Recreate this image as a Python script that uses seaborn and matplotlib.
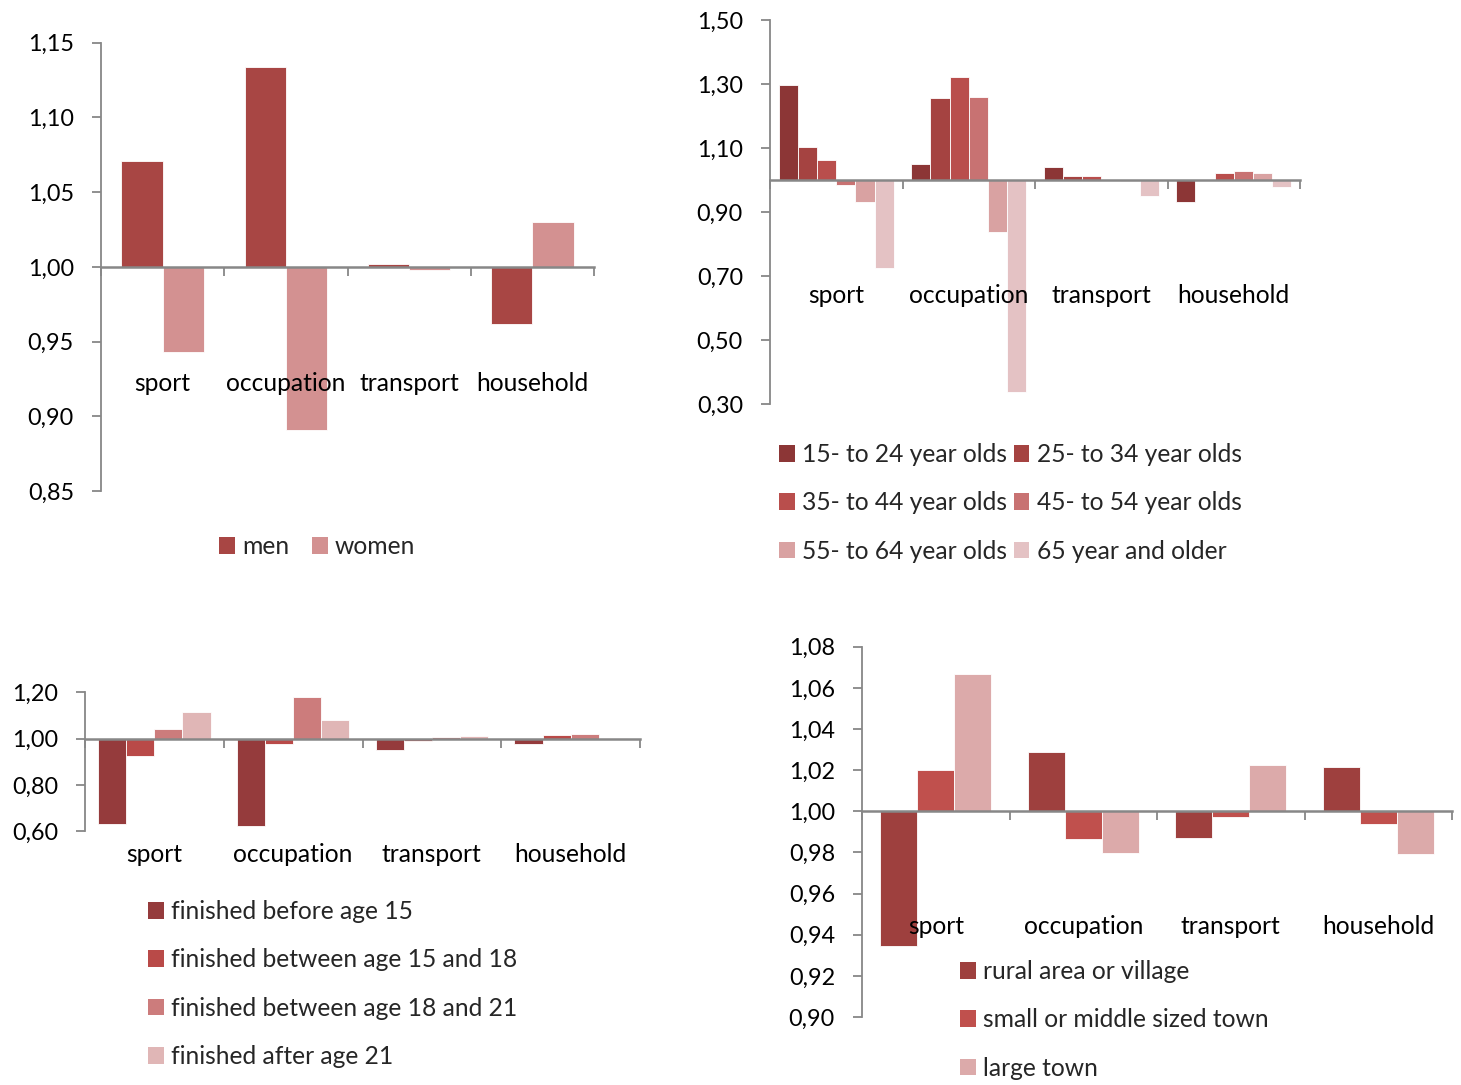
import matplotlib
matplotlib.use("Agg")
import matplotlib.pyplot as plt
from matplotlib.patches import Patch
from matplotlib.ticker import FuncFormatter, FixedLocator
import numpy as np
import seaborn as sns
import pandas as pd

# ---- data -------------------------------------------------------------
activities = ["sport", "occupation", "transport", "household"]

sex_groups = ["men", "women"]
men = [1.071, 1.134, 1.002, 0.962]
women = [0.943, 0.891, 0.998, 1.030]
sex_colors = ["#A84644", "#D39191"]

age_groups = ["15- to 24 year olds", "25- to 34 year olds", "35- to 44 year olds",
              "45- to 54 year olds", "55- to 64 year olds", "65 year and older"]
age_15_24 = [1.297, 1.050, 1.040, 0.932]
age_25_34 = [1.103, 1.256, 1.014, 1.000]
age_35_44 = [1.061, 1.322, 1.011, 1.021]
age_45_54 = [0.984, 1.259, 1.000, 1.029]
age_55_64 = [0.930, 0.838, 0.997, 1.022]
age_65_up = [0.724, 0.338, 0.951, 0.979]
age_colors = ["#8C3636", "#A54341", "#B94E4C", "#C87272", "#D9A2A2", "#E4C2C4"]

edu_groups = ["finished before age 15", "finished between age 15 and 18",
              "finished between age 18 and 21", "finished after age 21"]
edu_before_15 = [0.633, 0.622, 0.951, 0.976]
edu_15_18 = [0.924, 0.976, 0.990, 1.015]
edu_18_21 = [1.040, 1.179, 1.009, 1.019]
edu_after_21 = [1.117, 1.079, 1.013, 1.004]
edu_colors = ["#953B3C", "#B94A48", "#CC7C7C", "#E0B6B6"]

place_groups = ["rural area or village", "small or middle sized town", "large town"]
rural = [0.9345, 1.0289, 0.9868, 1.0217]
small_town = [1.0199, 0.9863, 0.9972, 0.9940]
large_town = [1.0669, 0.9795, 1.0223, 0.9792]
place_colors = ["#9E403E", "#C0504D", "#DCAAAA"]

# ---- style ------------------------------------------------------------
sns.set_theme(style="white")
plt.rcParams["font.family"] = ["Lato", "DejaVu Sans"]
AXIS_GREY = "#878787"
FS_TEXT = 17.7
FS_TICK = 16.8

fig = plt.figure(figsize=(14.61, 10.85), dpi=100)


def long_frame(groups, series):
    rows = []
    for g, vals in zip(groups, series):
        for a, v in zip(activities, vals):
            rows.append({"activity": a, "group": g, "value": v, "dev": v - 1.0})
    return pd.DataFrame(rows)


def panel(rect, groups, series, colors, ylim, step, bar_width, label_y,
          legend_anchor, ncol, label_spacing, col_spacing=0.6):
    ax = fig.add_axes(rect)
    df = long_frame(groups, series)
    # bars grow from the 1,00 baseline: height = value - 1, bottom = 1
    sns.barplot(data=df, x="activity", y="dev", hue="group", order=activities,
                hue_order=groups, palette=colors, width=bar_width, gap=0,
                errorbar=None, bottom=1.0, ax=ax, saturation=1, legend=False,
                edgecolor="white", linewidth=0.6)
    ax.set_xlim(-0.5, 3.5)
    ax.set_ylim(*ylim)
    ax.set_xlabel("")
    ax.set_ylabel("")

    # horizontal axis crossing at 1,00 with marks between categories
    for s in ("top", "right"):
        ax.spines[s].set_visible(False)
    ax.spines["bottom"].set_position(("data", 1.0))
    ax.spines["bottom"].set_color(AXIS_GREY)
    ax.spines["bottom"].set_linewidth(1.8)
    ax.spines["left"].set_color(AXIS_GREY)
    ax.spines["left"].set_linewidth(1.3)
    ax.xaxis.set_minor_locator(FixedLocator([-0.5, 0.5, 1.5, 2.5, 3.5]))
    ax.tick_params(axis="x", which="major", length=0, labelbottom=False)
    ax.tick_params(axis="x", which="minor", bottom=True, length=6.5,
                   width=1.3, color=AXIS_GREY, direction="out")

    n_ticks = int(round((ylim[1] - ylim[0]) / step)) + 1
    ax.yaxis.set_major_locator(
        FixedLocator(ylim[0] + step * np.arange(n_ticks)))
    ax.yaxis.set_major_formatter(
        FuncFormatter(lambda v, _: f"{v:.2f}".replace(".", ",")))
    ax.tick_params(axis="y", left=True, length=6.5, width=1.3,
                   color=AXIS_GREY, pad=13, labelsize=FS_TICK,
                   labelcolor="black")

    for i, a in enumerate(activities):
        ax.text(i, label_y, a, ha="center", va="center", fontsize=FS_TEXT,
                color="black")

    handles = [Patch(facecolor=c, edgecolor="none") for c in colors]
    labels = list(groups)
    if ncol > 1 and len(groups) > ncol:
        # fill the legend row by row
        nrow = int(np.ceil(len(groups) / ncol))
        order = [r * ncol + c for c in range(ncol) for r in range(nrow)]
        handles = [handles[i] for i in order]
        labels = [labels[i] for i in order]
    ax.legend(handles, labels, loc="upper left", bbox_to_anchor=legend_anchor,
              bbox_transform=fig.transFigure, ncol=ncol, frameon=False,
              fontsize=FS_TEXT, handlelength=0.65, handleheight=0.65,
              handletextpad=0.3, labelspacing=label_spacing,
              columnspacing=col_spacing, borderaxespad=0, borderpad=0)
    return ax


W, H = 1461.0, 1085.0


def rect(x0, x1, ytop, ybot):
    return [x0 / W, 1 - ybot / H, (x1 - x0) / W, (ybot - ytop) / H]


# men / women
panel(rect(101, 594, 42.7, 491), sex_groups, [men, women], sex_colors,
      (0.85, 1.15), 0.05, 0.67, 0.922,
      (219 / W, 1 - 535 / H), 2, 1.0, col_spacing=0.9)

# age groups
panel(rect(770, 1300, 20, 404), age_groups,
      [age_15_24, age_25_34, age_35_44, age_45_54, age_55_64, age_65_up],
      age_colors, (0.30, 1.50), 0.20, 0.87, 0.640,
      (779 / W, 1 - 443 / H), 2, 1.03, col_spacing=0.25)

# education
panel(rect(85, 640, 692.3, 831.3), edu_groups,
      [edu_before_15, edu_15_18, edu_18_21, edu_after_21],
      edu_colors, (0.60, 1.20), 0.20, 0.81, 0.502,
      (148 / W, 1 - 900 / H), 1, 1.03)

# place of residence
panel(rect(862, 1452, 646.7, 1017), place_groups,
      [rural, small_town, large_town],
      place_colors, (0.90, 1.08), 0.02, 0.75, 0.944,
      (960 / W, 1 - 960 / H), 1, 1.03)

fig.savefig("out.png", dpi=100, facecolor="white")
